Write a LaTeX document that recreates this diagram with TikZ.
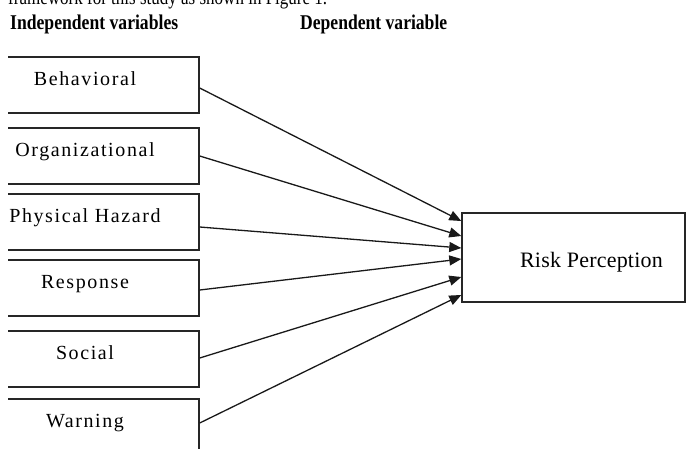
\documentclass[tikz,border=0pt]{standalone}
\usepackage{fontspec}
\usepackage{graphicx}
\setmainfont{Liberation Serif}
\newfontfamily\boxfont[LetterSpace=8]{Liberation Serif}
\newfontfamily\rpfont[LetterSpace=1]{Liberation Serif}
\usetikzlibrary{arrows.meta}
\begin{document}
\begin{tikzpicture}[x=1pt,y=-1pt,
  ivbox/.style={draw=black!85, line width=1.4pt, minimum width=228pt, minimum height=56pt, inner sep=0pt},
  ivtext/.style={anchor=base, inner sep=0pt, font=\boxfont\fontsize{20}{24}\selectfont},
  dvbox/.style={draw=black!85, line width=1.4pt, minimum width=223pt, minimum height=89pt, inner sep=0pt},
  dvtext/.style={anchor=base, inner sep=0pt, font=\rpfont\fontsize{22}{26}\selectfont},
  head/.style={anchor=base west, inner sep=0pt, font=\fontsize{21}{25}\selectfont},
  link/.style={line width=1.3pt, draw=black!90, -{Triangle[length=12pt,width=10pt]}}]
\useasboundingbox (0,0) rectangle (686,448);
\clip (0,0) rectangle (686,448);
% cut-off caption line
\node[head] (cap) at (8,4) {\resizebox{319pt}{\height}{framework for this study as shown in Figure 1.}};
% headers
\node[head] (ivh) at (10,29) {\resizebox{168pt}{\height}{\bfseries Independent variables}};
\node[head] (dvh) at (300,29) {\resizebox{147pt}{\height}{\bfseries Dependent variable}};
% independent variable boxes (clipped on the left)
\begin{scope}
  \clip (8,0) rectangle (686,448);
  \node[ivbox] (b1) at (85,85) {};
  \node[ivbox] (b2) at (85,156) {};
  \node[ivbox] (b3) at (85,222) {};
  \node[ivbox] (b4) at (85,288) {};
  \node[ivbox] (b5) at (85,359) {};
  \node[ivbox] (b6) at (85,427) {};
\end{scope}
\node[ivtext] (t1) at (b1.center) {Behavioral};
\node[ivtext] (t2) at (b2.center) {Organizational};
\node[ivtext] (t3) at (b3.center) {Physical Hazard};
\node[ivtext] (t4) at (b4.center) {Response};
\node[ivtext] (t5) at (b5.center) {Social};
\node[ivtext] (t6) at (b6.center) {Warning};
% dependent variable box
\node[dvbox] (rp) at (573.5,257.5) {};
\node[dvtext] (rpt) at (591.5,267) {Risk Perception};
% connectors
\draw[link] ([yshift=-3pt]b1.east) -- ([yshift=36.5pt]rp.west);
\draw[link] ([yshift=0pt]b2.east) -- ([yshift=21.5pt]rp.west);
\draw[link] ([yshift=-5pt]b3.east) -- ([yshift=9.5pt]rp.west);
\draw[link] ([yshift=-2pt]b4.east) -- ([yshift=-1.5pt]rp.west);
\draw[link] ([yshift=1pt]b5.east) -- ([yshift=-19.5pt]rp.west);
\draw[link] ([yshift=4pt]b6.east) -- ([yshift=-37.5pt]rp.west);
\end{tikzpicture}
\end{document}
